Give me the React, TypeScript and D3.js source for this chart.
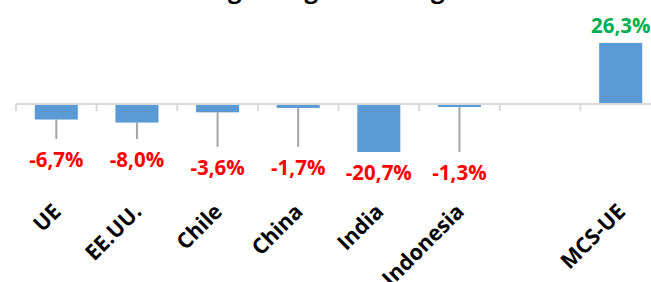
import React, { useRef, useEffect } from 'react'
import * as d3 from 'd3'

const categories = ['UE', 'EE.UU.', 'Chile', 'China', 'India', 'Indonesia', '', 'MCS-UE']
const values: (number | null)[] = [-6.7, -8.0, -3.6, -1.7, -20.7, -1.3, null, 26.3]
// lower end of the grey whisker under each bar
const whiskerLow: (number | null)[] = [-15.1, -15.1, -18.5, -18.5, null, -20.7, null, null]

const title = 'Crecimiento según región de origen'

const locale = d3.formatLocale({
  decimal: ',',
  thousands: '.',
  grouping: [3],
  currency: ['', '€'],
  minus: '-'
})
const fmt = locale.format('.1f')

export default function App() {
  const canvas = useRef<SVGSVGElement>(null)

  useEffect(() => {
    const svg = d3.select(canvas.current)
    svg.selectAll('*').remove()

    const font = "'Open Sans', 'DejaVu Sans', sans-serif"
    const p = 0.466

    const x = d3.scaleBand<string>()
      .domain(categories)
      .range([16, 661])
      .paddingInner(p)
      .paddingOuter(p / 2)

    const y = d3.scaleLinear().domain([-30, 30]).range([173.6, 34.4])

    const step = x.step()
    const left = (i: number) => 16 + i * step
    const center = (i: number) => (x(categories[i]) as number) + x.bandwidth() / 2

    // title (mostly cut off at the top of the frame)
    svg.append('text')
      .attr('x', 262)
      .attr('y', -2)
      .attr('text-anchor', 'middle')
      .attr('font-family', font)
      .attr('font-weight', 700)
      .attr('font-size', 24)
      .attr('fill', '#000')
      .text(title)

    // bars
    svg.selectAll('rect.bar')
      .data(values.map((v, i) => ({ v, i })).filter(d => d.v !== null))
      .enter()
      .append('rect')
      .attr('class', 'bar')
      .attr('x', d => x(categories[d.i]) as number)
      .attr('width', x.bandwidth())
      .attr('y', d => y(Math.max(0, d.v as number)))
      .attr('height', d => Math.abs(y(d.v as number) - y(0)))
      .attr('fill', '#5b9bd5')

    // whiskers
    svg.selectAll('line.whisker')
      .data(whiskerLow.map((w, i) => ({ w, i })).filter(d => d.w !== null))
      .enter()
      .append('line')
      .attr('x1', d => center(d.i))
      .attr('x2', d => center(d.i))
      .attr('y1', d => y(values[d.i] as number))
      .attr('y2', d => y(d.w as number))
      .attr('stroke', '#a5a5a5')
      .attr('stroke-width', 2)

    // axis line and tick marks
    svg.append('line')
      .attr('x1', 16)
      .attr('x2', 651)
      .attr('y1', y(0))
      .attr('y2', y(0))
      .attr('stroke', '#d9d9d9')
      .attr('stroke-width', 2)

    svg.selectAll('line.tick')
      .data(d3.range(categories.length))
      .enter()
      .append('line')
      .attr('x1', i => left(i))
      .attr('x2', i => left(i))
      .attr('y1', y(0))
      .attr('y2', y(0) + 7)
      .attr('stroke', '#d9d9d9')
      .attr('stroke-width', 2)

    // value labels
    svg.selectAll('text.val')
      .data(values.map((v, i) => ({ v, i })).filter(d => d.v !== null))
      .enter()
      .append('text')
      .attr('x', d => center(d.i))
      .attr('y', d => {
        const v = d.v as number
        if (v >= 0) return y(v) - 10
        const low = whiskerLow[d.i] !== null ? Math.min(v, whiskerLow[d.i] as number) : v
        return y(low) + 28
      })
      .attr('text-anchor', 'middle')
      .attr('font-family', font)
      .attr('font-weight', 700)
      .attr('font-size', 20.5)
      .attr('fill', d => ((d.v as number) >= 0 ? '#00b050' : '#ff0000'))
      .text(d => fmt(d.v as number) + '%')

    // category labels
    svg.selectAll('text.cat')
      .data(categories.map((c, i) => ({ c, i })).filter(d => d.c !== ''))
      .enter()
      .append('text')
      .attr('transform', d => `translate(${center(d.i) + 6},213) rotate(-45)`)
      .attr('text-anchor', 'end')
      .attr('font-family', font)
      .attr('font-weight', 700)
      .attr('font-size', 21.5)
      .attr('fill', '#000')
      .text(d => d.c)
  }, [])

  return (
    <svg
      ref={canvas}
      width={651}
      height={282}
      style={{ position: 'absolute', left: 0, top: 0, background: '#fff' }}
    />
  )
}
